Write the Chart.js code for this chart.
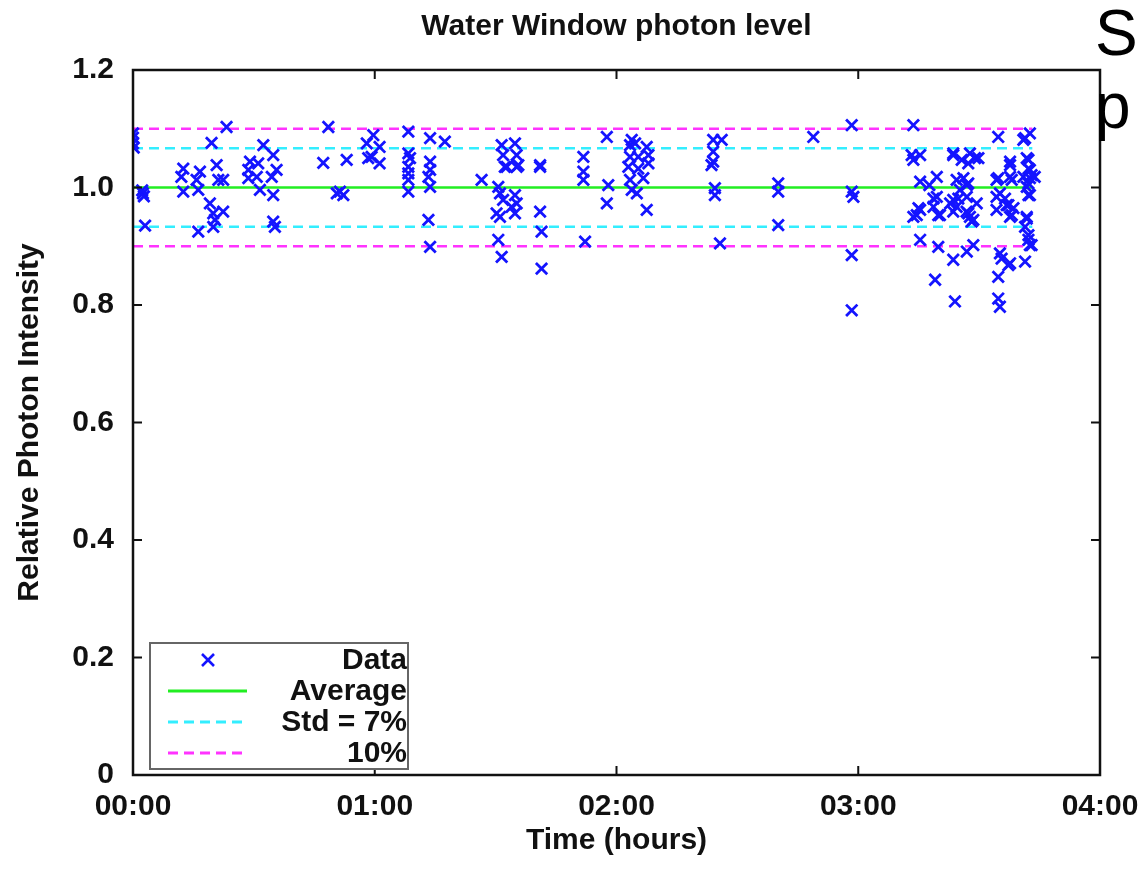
<!DOCTYPE html>
<html>
<head>
<meta charset="utf-8">
<title>Water Window photon level</title>
<script src="https://cdn.jsdelivr.net/npm/chart.js@4/dist/chart.umd.min.js"></script>
<style>
  html, body { margin: 0; padding: 0; background: #fff; overflow: hidden; }
  #wrap { position: relative; width: 1138px; height: 871px; overflow: hidden; }
  #c { position: absolute; left: 0; top: 0; }
  .side { position: absolute; font-family: "Liberation Sans", Arial, sans-serif; font-size: 64px; color: #000; line-height: 1; }
</style>
</head>
<body>
<div id="wrap">
  <canvas id="c" width="1138" height="871"></canvas>
  <div class="side" style="left:1095px; top:1px;">S</div>
  <div class="side" style="left:1095px; top:74px;">p</div>
</div>
<script>
// Measurement times (hours since start) and relative photon intensity
const hours = [
  0.000, 0.000, 0.003, 0.000, 0.041, 0.045, 0.038, 0.050,
  0.200, 0.208, 0.208, 0.263, 0.270, 0.277, 0.270, 0.318, 0.325, 0.332, 0.332, 0.339, 0.346, 0.353, 0.373, 0.373, 0.387,
  0.477, 0.477, 0.484, 0.512, 0.518, 0.525, 0.539, 0.580, 0.594, 0.574, 0.580, 0.580, 0.587,
  0.787, 0.808, 0.843, 0.870, 0.884, 0.856,
  0.967, 0.973, 0.994, 1.020, 0.987, 1.020,
  1.139, 1.139, 1.146, 1.139, 1.139, 1.139, 1.139,
  1.229, 1.229, 1.229, 1.222, 1.229, 1.222, 1.229,
  1.290, 1.442,
  1.525, 1.580, 1.531, 1.587, 1.546, 1.594, 1.511, 1.518, 1.531, 1.580, 1.587, 1.566, 1.504, 1.518, 1.580, 1.511, 1.525, 1.538, 1.587,
  1.684, 1.684, 1.690, 1.690, 1.684,
  1.863, 1.863, 1.863, 1.870,
  1.960, 1.966, 1.960,
  2.063, 2.056, 2.077, 2.125, 2.056, 2.090, 2.132, 2.049, 2.090, 2.132, 2.056, 2.111, 2.063, 2.084, 2.125,
  2.400, 2.435, 2.400, 2.400, 2.393, 2.407, 2.407, 2.428,
  2.669, 2.669, 2.669, 2.814,
  2.973, 2.973, 2.980, 2.973, 2.973,
  3.228, 3.221, 3.256, 3.228, 3.256, 3.249, 3.228, 3.256, 3.242, 3.256,
  3.294, 3.311, 3.325, 3.325, 3.311, 3.331, 3.338, 3.331, 3.318,
  3.380, 3.393, 3.393, 3.393, 3.393, 3.393, 3.400, 3.407, 3.407, 3.414, 3.421, 3.428, 3.435, 3.449, 3.449, 3.449, 3.448,
  3.455, 3.455, 3.455, 3.462, 3.462, 3.469, 3.476, 3.476, 3.483, 3.490, 3.497,
  3.572, 3.572, 3.572, 3.579, 3.579, 3.579, 3.579, 3.586, 3.586, 3.586, 3.593, 3.607, 3.614, 3.621, 3.621,
  3.628, 3.628, 3.628, 3.628, 3.628, 3.635, 3.635, 3.642,
  3.683, 3.683, 3.690, 3.690, 3.690, 3.697, 3.697, 3.697, 3.697, 3.704, 3.704, 3.704, 3.704, 3.704, 3.704,
  3.710, 3.710, 3.710, 3.710, 3.710, 3.717, 3.717, 3.730
];
const intensity = [
  1.085, 1.075, 1.068, 1.092, 0.990, 0.985, 0.995, 0.935,
  1.018, 1.032, 0.993, 1.013, 0.996, 1.027, 0.925, 0.973, 1.076, 0.956, 0.933, 0.945, 1.038, 1.013, 1.013, 0.959, 1.103,
  1.030, 1.016, 1.044, 1.018, 1.041, 0.996, 1.072, 1.055, 1.030, 1.018, 0.987, 0.942, 0.933,
  1.042, 1.103, 0.990, 0.987, 1.047, 0.993,
  1.075, 1.050, 1.089, 1.069, 1.052, 1.041,
  1.095, 1.058, 1.050, 1.035, 1.024, 1.013, 0.993,
  1.084, 1.044, 1.030, 1.018, 1.001, 0.945, 0.899,
  1.078, 1.013,
  1.072, 1.075, 1.055, 1.055, 1.035, 1.038, 1.001, 0.990, 0.979, 0.987, 0.973, 0.967, 0.956, 0.950, 0.956, 0.911, 0.882, 1.035, 1.035,
  1.038, 0.959, 0.925, 0.862, 1.035,
  1.052, 1.027, 1.013, 0.908,
  1.086, 1.004, 0.973,
  1.081, 1.072, 1.075, 1.069, 1.052, 1.052, 1.055, 1.035, 1.032, 1.041, 1.013, 1.016, 0.996, 0.990, 0.962,
  1.081, 1.081, 1.061, 1.044, 1.038, 0.999, 0.987, 0.905,
  1.007, 0.993, 0.936, 1.086,
  1.106, 0.993, 0.984, 0.885, 0.791,
  1.106, 1.055, 1.055, 1.047, 1.010, 0.965, 0.950, 0.911, 0.953, 0.962,
  1.004, 0.981, 1.018, 0.984, 0.967, 0.953, 0.953, 0.899, 0.843,
  0.973, 1.058, 1.055, 0.979, 0.959, 0.877, 0.806, 1.013, 0.967, 0.981, 0.996, 1.047, 1.016, 0.984, 1.004, 0.891, 0.959,
  1.007, 0.956, 1.041, 1.058, 0.950, 0.942, 0.945, 0.902, 1.050, 0.973, 1.050,
  1.013, 0.984, 0.962, 1.086, 1.016, 0.848, 0.811, 0.990, 0.888, 0.797, 0.879, 0.981, 0.970, 0.970, 0.868,
  1.044, 1.038, 1.018, 0.950, 0.871, 1.013, 0.953, 0.965,
  1.081, 1.018, 1.084, 0.933, 0.874, 1.050, 1.001, 0.950, 0.947, 1.047, 1.032, 1.007, 0.987, 0.919, 0.911,
  1.092, 1.030, 1.016, 0.987, 0.902, 1.021, 0.902, 1.018
];

// Reference levels drawn across the measurement span
const spanHours = [0, 3.72];
const averageLevel = 1.0;
const stdLevels = [1.067, 0.933];
const tenPctLevels = [1.10, 0.90];

// Axis ticks
const xTickHours = [0, 1, 2, 3, 4];
const xTickLabels = ['00:00', '01:00', '02:00', '03:00', '04:00'];
const yTicks = [0, 0.2, 0.4, 0.6, 0.8, 1.0, 1.2];

const FONT = '"Liberation Sans", Arial, Helvetica, sans-serif';
const TEXT_SIZE = 30;

const points = hours.map((h, i) => ({ x: h, y: intensity[i] }));
const levelLine = v => spanHours.map(h => ({ x: h, y: v }));

const BLUE = '#1414ff';
const GREEN = '#22ee22';
const CYAN = '#33eeff';
const MAGENTA = '#ff33ff';

const datasets = [
  {
    type: 'scatter', label: 'Data', data: points,
    pointStyle: 'crossRot', pointRadius: 8, pointHoverRadius: 8,
    borderColor: BLUE, backgroundColor: BLUE, pointBorderWidth: 2.8,
    showInLegend: true, order: 0
  },
  {
    type: 'line', label: 'Average', data: levelLine(averageLevel),
    borderColor: GREEN, borderWidth: 2.5, pointRadius: 0, showInLegend: true, order: 1
  },
  {
    type: 'line', label: 'Std = 7%', data: levelLine(stdLevels[0]),
    borderColor: CYAN, borderWidth: 2.5, borderDash: [10, 6], pointRadius: 0, showInLegend: true, order: 2
  },
  {
    type: 'line', label: 'Std = 7% (lower)', data: levelLine(stdLevels[1]),
    borderColor: CYAN, borderWidth: 2.5, borderDash: [10, 6], pointRadius: 0, showInLegend: false, order: 2
  },
  {
    type: 'line', label: '10%', data: levelLine(tenPctLevels[0]),
    borderColor: MAGENTA, borderWidth: 2.5, borderDash: [10, 6], pointRadius: 0, showInLegend: true, order: 3
  },
  {
    type: 'line', label: '10% (lower)', data: levelLine(tenPctLevels[1]),
    borderColor: MAGENTA, borderWidth: 2.5, borderDash: [10, 6], pointRadius: 0, showInLegend: false, order: 3
  }
];

// Frame around the plot with inward tick marks on all four sides
const frameTicks = {
  id: 'frameTicks',
  afterDatasetsDraw(chart) {
    const { ctx, chartArea: a, scales: { x, y } } = chart;
    const len = 9;
    ctx.save();
    ctx.strokeStyle = '#111';
    ctx.lineWidth = 2;
    ctx.beginPath();
    xTickHours.forEach(v => {
      const px = x.getPixelForValue(v);
      ctx.moveTo(px, a.bottom); ctx.lineTo(px, a.bottom - len);
      ctx.moveTo(px, a.top); ctx.lineTo(px, a.top + len);
    });
    yTicks.forEach(v => {
      const py = y.getPixelForValue(v);
      ctx.moveTo(a.left, py); ctx.lineTo(a.left + len, py);
      ctx.moveTo(a.right, py); ctx.lineTo(a.right - len, py);
    });
    ctx.stroke();
    ctx.lineWidth = 2.5;
    ctx.strokeRect(a.left, a.top, a.right - a.left, a.bottom - a.top);
    ctx.restore();
  }
};

// Boxed legend in the lower-left corner, samples on the left, labels right-aligned
const boxLegend = {
  id: 'boxLegend',
  afterDatasetsDraw(chart) {
    const { ctx, chartArea: a } = chart;
    const entries = chart.data.datasets.filter(d => d.showInLegend);
    const left = a.left + 17, right = a.left + 275;
    const bottom = a.bottom - 6, rowH = 31;
    const top = bottom - rowH * entries.length - 2;
    ctx.save();
    ctx.fillStyle = '#fff';
    ctx.fillRect(left, top, right - left, bottom - top);
    ctx.strokeStyle = '#666';
    ctx.lineWidth = 2;
    ctx.strokeRect(left, top, right - left, bottom - top);
    entries.forEach((d, i) => {
      const cy = top + 17 + i * rowH;
      if (d.type === 'scatter') {
        const cx = left + 58, r = 6;
        ctx.strokeStyle = d.borderColor;
        ctx.lineWidth = 2.6;
        ctx.beginPath();
        ctx.moveTo(cx - r, cy - r); ctx.lineTo(cx + r, cy + r);
        ctx.moveTo(cx + r, cy - r); ctx.lineTo(cx - r, cy + r);
        ctx.stroke();
      } else {
        ctx.strokeStyle = d.borderColor;
        ctx.lineWidth = d.borderWidth + 0.5;
        ctx.setLineDash(d.borderDash || []);
        ctx.beginPath();
        ctx.moveTo(left + 18, cy); ctx.lineTo(left + 97, cy);
        ctx.stroke();
        ctx.setLineDash([]);
      }
      ctx.fillStyle = '#111';
      ctx.font = 'bold ' + TEXT_SIZE + 'px ' + FONT;
      ctx.textAlign = 'right';
      ctx.textBaseline = 'middle';
      ctx.fillText(d.label, right - 1, cy + 1);
    });
    ctx.restore();
  }
};

new Chart(document.getElementById('c'), {
  type: 'scatter',
  data: { datasets },
  plugins: [frameTicks, boxLegend],
  options: {
    responsive: false,
    animation: false,
    layout: { padding: { left: 0, right: 38, top: 0, bottom: 0 } },
    plugins: {
      legend: { display: false },
      tooltip: { enabled: false },
      title: {
        display: true,
        text: 'Water Window photon level',
        fullSize: false,
        color: '#111',
        font: { family: FONT, size: TEXT_SIZE, weight: 'bold', lineHeight: 1.2 },
        padding: { top: 9, bottom: 25 }
      }
    },
    scales: {
      x: {
        type: 'linear', min: 0, max: 4,
        afterBuildTicks: s => { s.ticks = xTickHours.map(v => ({ value: v })); },
        afterFit: s => { s.height = 96; s.paddingRight = 38; s.paddingLeft = 0; },
        ticks: {
          callback: v => xTickLabels[xTickHours.indexOf(v)],
          color: '#111', padding: 14, maxRotation: 0,
          font: { family: FONT, size: TEXT_SIZE, weight: 'bold' }
        },
        grid: { display: false, drawTicks: false },
        border: { display: false },
        title: {
          display: true, text: 'Time (hours)', color: '#111',
          font: { family: FONT, size: TEXT_SIZE, weight: 'bold', lineHeight: 1.2 },
          padding: { top: 0, bottom: 12 }
        }
      },
      y: {
        type: 'linear', min: 0, max: 1.2,
        afterBuildTicks: s => { s.ticks = yTicks.map(v => ({ value: v })); },
        afterFit: s => { s.width = 133; },
        ticks: {
          color: '#111', padding: 19,
          font: { family: FONT, size: TEXT_SIZE, weight: 'bold' }
        },
        grid: { display: false, drawTicks: false },
        border: { display: false },
        title: {
          display: true, text: 'Relative Photon Intensity', color: '#111',
          font: { family: FONT, size: TEXT_SIZE, weight: 'bold', lineHeight: 1.2 },
          padding: { top: 12, bottom: 0 }
        }
      }
    }
  }
});
</script>
</body>
</html>
